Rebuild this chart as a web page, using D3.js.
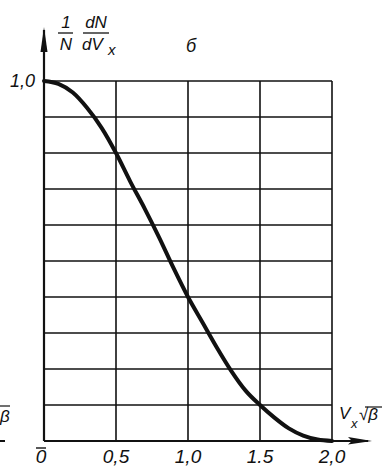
<!DOCTYPE html>
<html>
<head>
<meta charset="utf-8">
<script src="https://cdn.jsdelivr.net/npm/d3@7"></script>
<style>
  body { margin: 0; background: #fff; }
  text { font-family: "Liberation Sans", Arial, sans-serif; font-style: italic; fill: #111; }
</style>
</head>
<body>
<script>
// values
var vx = [0, 0.1, 0.2, 0.3, 0.4, 0.5, 0.6, 0.7, 0.8, 0.9, 1.0,
          1.1, 1.2, 1.3, 1.4, 1.5, 1.6, 1.7, 1.8, 1.9, 2.0];
var density = [1.0, 0.992, 0.968, 0.925, 0.87, 0.80, 0.72, 0.645, 0.565, 0.48, 0.40,
               0.33, 0.26, 0.195, 0.14, 0.10, 0.065, 0.035, 0.015, 0.004, 0.0];
var xGrid = [0, 0.5, 1.0, 1.5, 2.0];
var yGrid = [0, 0.1, 0.2, 0.3, 0.4, 0.5, 0.6, 0.7, 0.8, 0.9, 1.0];
var xTickLabels = ["0", "0,5", "1,0", "1.5", "2,0"];
var yTickLabels = ["1,0"];

var width = 387, height = 469;
var ink = "#111";

var svg = d3.select("body").append("svg")
  .attr("width", width)
  .attr("height", height);

var x = d3.scaleLinear().domain([0, 2]).range([44, 332]);
var y = d3.scaleLinear().domain([0, 1]).range([441, 81]);

// grid
svg.selectAll("line.v").data(xGrid).enter().append("line")
  .attr("x1", function(d){ return x(d); })
  .attr("x2", function(d){ return x(d); })
  .attr("y1", y(0)).attr("y2", y(1))
  .attr("stroke", ink).attr("stroke-width", 1.6);

svg.selectAll("line.h").data(yGrid).enter().append("line")
  .attr("x1", x(0)).attr("x2", x(2))
  .attr("y1", function(d){ return y(d); })
  .attr("y2", function(d){ return y(d); })
  .attr("stroke", ink).attr("stroke-width", 1.6);

// axes with arrows
svg.append("line")
  .attr("x1", x(0)).attr("x2", x(0))
  .attr("y1", y(0)).attr("y2", 30)
  .attr("stroke", ink).attr("stroke-width", 2.2);
svg.append("path")
  .attr("d", "M" + x(0) + ",27 L" + (x(0) - 3.5) + ",52 L" + (x(0) + 3.5) + ",52 Z")
  .attr("fill", ink);

svg.append("line")
  .attr("x1", x(0)).attr("x2", 368)
  .attr("y1", y(0)).attr("y2", y(0))
  .attr("stroke", ink).attr("stroke-width", 2.2);
svg.append("path")
  .attr("d", "M372," + y(0) + " L348," + (y(0) - 4) + " L352," + y(0) + " L348," + (y(0) + 3.5) + " Z")
  .attr("fill", ink);

// curve
var line = d3.line()
  .x(function(d, i){ return x(vx[i]); })
  .y(function(d){ return y(d); })
  .curve(d3.curveMonotoneX);

svg.append("path")
  .datum(density)
  .attr("d", line)
  .attr("fill", "none")
  .attr("stroke", ink)
  .attr("stroke-width", 4)
  .attr("stroke-linecap", "round");

// tick labels
svg.selectAll("text.xt").data(xGrid).enter().append("text")
  .attr("x", function(d, i){ return i === 0 ? 41 : x(d); })
  .attr("y", 463)
  .attr("text-anchor", "middle")
  .style("font-size", "19px")
  .text(function(d, i){ return xTickLabels[i]; });
// little bar over the zero
svg.append("line")
  .attr("x1", 36).attr("x2", 46).attr("y1", 448).attr("y2", 448)
  .attr("stroke", ink).attr("stroke-width", 1.4);

svg.append("text")
  .attr("x", 35).attr("y", y(1) + 6)
  .attr("text-anchor", "end")
  .style("font-size", "18px")
  .text(yTickLabels[0]);

// y label: 1/N dN/dVx
var fr = svg.append("g").style("font-size", "17px");
fr.append("text").attr("x", 66).attr("y", 28).attr("text-anchor", "middle").text("1");
fr.append("line").attr("x1", 58).attr("x2", 73).attr("y1", 33).attr("y2", 33)
  .attr("stroke", ink).attr("stroke-width", 1.3);
fr.append("text").attr("x", 66).attr("y", 50).attr("text-anchor", "middle").text("N");
fr.append("text").attr("x", 96).attr("y", 28).attr("text-anchor", "middle").text("dN");
fr.append("line").attr("x1", 83).attr("x2", 109).attr("y1", 33).attr("y2", 33)
  .attr("stroke", ink).attr("stroke-width", 1.3);
fr.append("text").attr("x", 82).attr("y", 50).text("dV");
fr.append("text").attr("x", 108).attr("y", 55).style("font-size", "15px").text("x");

svg.append("text")
  .attr("x", 191).attr("y", 52)
  .attr("text-anchor", "middle")
  .style("font-size", "18px")
  .text("б");

// x label: Vx sqrt(beta)
var xl = svg.append("g").style("font-size", "17px");
xl.append("text").attr("x", 339).attr("y", 419).text("V");
xl.append("text").attr("x", 351).attr("y", 428).style("font-size", "13px").text("x");
xl.append("text").attr("x", 359).attr("y", 420).text("√β");
xl.append("line").attr("x1", 365).attr("x2", 382).attr("y1", 407).attr("y2", 407)
  .attr("stroke", ink).attr("stroke-width", 1.2);

// fragments of the neighbouring figure at the left edge
svg.append("text").attr("x", 0).attr("y", 422).style("font-size", "17px").text("β");
svg.append("line").attr("x1", 0).attr("x2", 10).attr("y1", 406).attr("y2", 406)
  .attr("stroke", ink).attr("stroke-width", 1.2);
svg.append("line").attr("x1", 0).attr("x2", 5).attr("y1", 441).attr("y2", 441)
  .attr("stroke", ink).attr("stroke-width", 2);
</script>
</body>
</html>
